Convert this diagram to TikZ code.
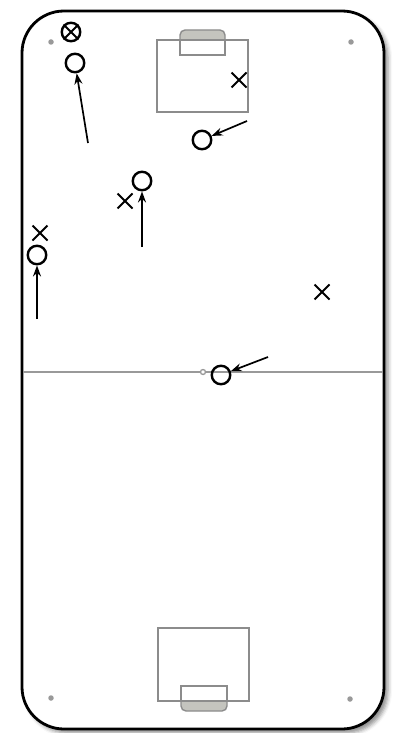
\documentclass[tikz,border=0pt]{standalone}
\usetikzlibrary{arrows.meta,shapes.misc,shadows.blur}
\definecolor{fieldline}{HTML}{999999}
\definecolor{goalfill}{HTML}{C4C4BE}
\definecolor{goalline}{HTML}{8C8C8C}
\begin{document}
\begin{tikzpicture}[x=1pt,y=-1pt,
  player/.style={circle,draw=black,line width=2.4pt,minimum size=18.5pt,inner sep=0pt},
  opp/.style={cross out,draw=black,line width=2pt,minimum size=13pt,inner sep=0pt},
  run/.style={line width=1.7pt,-{Stealth[length=11pt,width=8pt]}},
  fline/.style={draw=fieldline,line width=2pt},
  gline/.style={draw=goalline,line width=2.2pt},
  cdot/.style={circle,fill=fieldline,minimum size=5.5pt,inner sep=0pt}]
\useasboundingbox (0,0) rectangle (396,733);
% pitch
\draw[line width=2.8pt,rounded corners=42pt,fill=white,
  blur shadow={shadow xshift=4pt,shadow yshift=-4pt,shadow blur radius=4pt,shadow opacity=45}]
  (22,11) rectangle (384,729);
% halfway line
\coordinate (hl) at (23,372);
\coordinate (hr) at (383,372);
\draw[fline] (hl) -- (hr);
\node[circle,draw=fieldline,fill=white,line width=1.3pt,minimum size=5pt,inner sep=0pt] (cs) at (203,372) {};
% corner dots
\node[cdot] (d1) at (51,42) {};
\node[cdot] (d2) at (351,42) {};
\node[cdot] (d3) at (51,698) {};
\node[cdot] (d4) at (350,699) {};
% top goal
\fill[goalfill] (180,40) [rounded corners=5pt] -- (180,30) -- (225,30) [sharp corners] -- (225,40) -- cycle;
\draw[gline,line width=1.4pt] (180,40) [rounded corners=5pt] -- (180,30) -- (225,30) [sharp corners] -- (225,40);
\draw[gline] (157,40) rectangle (248,112);
\draw[gline,line width=1.6pt] (180,40) rectangle (225,55);
% bottom goal
\fill[goalfill] (181,701) [rounded corners=5pt] -- (181,711) -- (227,711) [sharp corners] -- (227,701) -- cycle;
\draw[gline,line width=1.4pt] (181,701) [rounded corners=5pt] -- (181,711) -- (227,711) [sharp corners] -- (227,701);
\draw[gline] (158,628) rectangle (249,701);
\draw[gline,line width=1.6pt] (181,686) rectangle (227,701);
% players
\node[player] (p1) at (75,63) {};
\node[player] (p2) at (202,140) {};
\node[player] (p3) at (142,181) {};
\node[player] (p4) at (37,255) {};
\node[player] (p5) at (221,375) {};
\node[player] (ox) at (71,32) {};
\draw[line width=2pt] (ox.45) -- (ox.225) (ox.135) -- (ox.315);
% opponents
\node[opp] (x1) at (239,80) {};
\node[opp] (x2) at (125,201) {};
\node[opp] (x3) at (40,233) {};
\node[opp] (x4) at (322,292) {};
% runs
\coordinate (r1) at (88,143);
\coordinate (r2) at (247,121);
\coordinate (r3) at (142,247);
\coordinate (r4) at (37,319);
\coordinate (r5) at (268,357);
\draw[run] (r1) -- (p1);
\draw[run] (r2) -- (p2);
\draw[run] (r3) -- (p3);
\draw[run] (r4) -- (p4);
\draw[run] (r5) -- (p5);
\end{tikzpicture}
\end{document}
